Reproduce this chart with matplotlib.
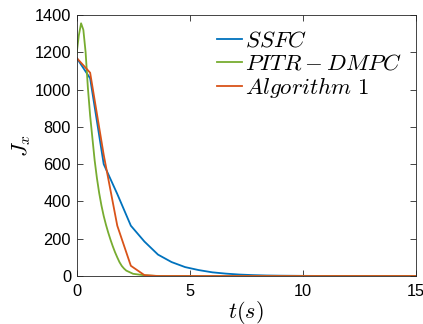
import matplotlib
matplotlib.use("Agg")
import matplotlib.pyplot as plt
import numpy as np

plt.rcParams['font.family'] = ['Liberation Sans', 'DejaVu Sans']
plt.rcParams['mathtext.fontset'] = 'cm'

# SSFC
t_ssfc = [0, 0.6, 1.2, 1.8, 2.4, 3.0, 3.6, 4.2, 4.8, 5.4, 6.0, 6.6, 7.2, 7.8, 8.4, 9.0, 10.0, 11.0, 12.0, 15.0]
j_ssfc = [1170, 1060, 600, 440, 270, 185, 115, 75, 48, 32, 20, 13, 8, 5, 3, 2, 1, 0.5, 0, 0]

# PITR-DMPC
t_pitr = [0, 0.1, 0.2, 0.3, 0.4, 0.5, 0.6, 0.7, 0.8, 0.9, 1.0, 1.1, 1.2, 1.3, 1.4, 1.5, 1.6, 1.7,
          1.8, 1.9, 2.0, 2.1, 2.2, 2.5, 3.0, 3.5, 4.0, 15.0]
j_pitr = [1190, 1290, 1355, 1320, 1200, 1010, 860, 740, 620, 525, 445, 378, 322, 275, 233, 195, 160, 128,
          100, 74, 54, 40, 29, 12, 4, 1, 0, 0]

# Algorithm 1
t_alg = [0, 0.6, 1.2, 1.8, 2.4, 3.0, 3.6, 15.0]
j_alg = [1170, 1090, 650, 270, 55, 5, 0, 0]

fig = plt.figure(figsize=(4.23, 3.24), dpi=100)
ax = fig.add_axes([0.181, 0.148, 0.802, 0.806])

ax.plot(t_ssfc, j_ssfc, color='#0072BD', lw=1.3, label='$SSFC$')
ax.plot(t_pitr, j_pitr, color='#77AC30', lw=1.3, label='$PITR-DMPC$')
ax.plot(t_alg, j_alg, color='#D95319', lw=1.3, label='$Algorithm\\ 1$')

ax.set_xlim(0, 15)
ax.set_ylim(0, 1400)
ax.set_xticks([0, 5, 10, 15])
ax.set_yticks(np.arange(0, 1401, 200))
ax.tick_params(direction='in', top=True, right=True, labelsize=11.8, length=4, color='#262626', width=0.6)
ax.tick_params(axis='x', pad=6)
ax.tick_params(axis='y', pad=4)
for s in ax.spines.values():
    s.set_color('#262626')
    s.set_linewidth(0.6)

ax.set_xlabel('$t(s)$', fontsize=16, labelpad=0)
ax.set_ylabel('$J_x$', fontsize=16, labelpad=1)

ax.legend(loc='upper right', frameon=False, fontsize=16.5, handlelength=1.1, handletextpad=0.15,
          labelspacing=0.0, borderaxespad=0.2, bbox_to_anchor=(1.0, 1.0))

fig.savefig('out.png', dpi=100)
